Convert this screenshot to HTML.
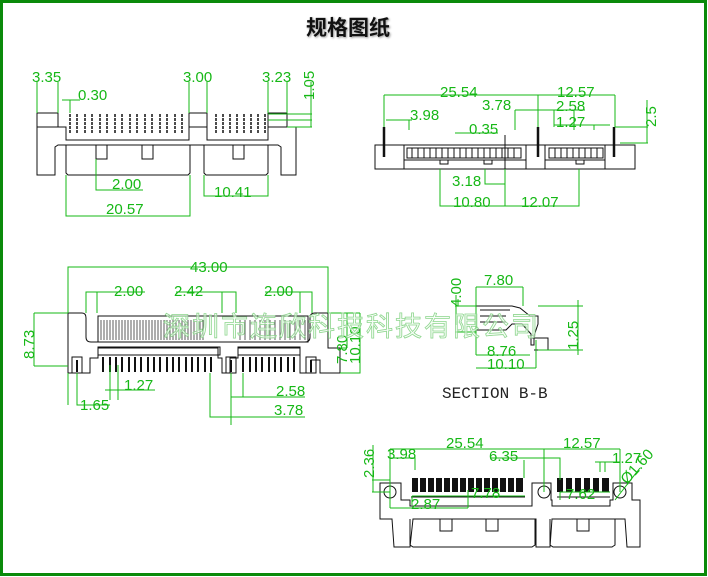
<!DOCTYPE html>
<html><head><meta charset="utf-8"><style>
html,body{margin:0;padding:0;background:#fff}
svg{display:block}
.g{fill:#16b816;font-family:"Liberation Sans",sans-serif;font-size:15px}
.gl{stroke:#16b816;stroke-width:1;fill:none}
.k{stroke:#111;stroke-width:1;fill:none}
</style></head><body>
<svg width="708" height="577" viewBox="0 0 708 577" xmlns="http://www.w3.org/2000/svg">
<rect x="1.5" y="1.5" width="704" height="573" fill="#fff" stroke="#0a8a0a" stroke-width="3"/>
<text x="348" y="35" text-anchor="middle" font-family="'Liberation Sans','Noto Sans CJK SC',sans-serif" font-size="21" font-weight="bold" fill="#111" style="text-shadow:1px 1px 2px #999">规格图纸</text>

<!-- VIEW 1 top-left -->
<g class="k">
<rect x="37" y="113" width="21" height="14"/>
<rect x="189" y="113" width="18" height="14"/>
<rect x="268" y="113" width="19" height="14"/>
<path d="M37 127 V175 H55 V147 L58 145 H278 L281 147 V175 H296 V127 H268 V140 H207 V127 H189 V140 H66 V127 Z"/>
<path d="M66 145 V173 L68 175 H188 L190 173 V145"/>
<path d="M204 145 V173 L206 175 H266 L268 173 V145"/>
<path d="M96 145 V159 H107 V145 M142 145 V159 H153 V145 M233 145 V159 H244 V145"/>
</g>
<g stroke="#111" stroke-width="1.5" stroke-dasharray="3 1">
<path d="M70 114V133M77 114V133M85 114V133M92 114V133M100 114V133M107 114V133M115 114V133M122 114V133M130 114V133M137 114V133M145 114V133M152 114V133M160 114V133M167 114V133M175 114V133M182 114V133"/>
<path d="M216 114V133M223 114V133M230 114V133M237 114V133M244 114V133M251 114V133M258 114V133M265 114V133"/>
</g>
<g class="gl">
<path d="M37 82V113M58 82V113M62 100H80M70 100V113"/>
<path d="M189 82V113M207 82V113M268 82V113M287 82V113M268 114H312M268 120H312M311 82V127M287 127H312"/>
<path d="M96 159V190H143M66 175V216H190V175M204 175V196H268V175"/>
</g>
<text class="g" x="32" y="82">3.35</text>
<text class="g" x="78" y="100">0.30</text>
<text class="g" x="183" y="82">3.00</text>
<text class="g" x="262" y="82">3.23</text>
<text class="g" transform="translate(314,100) rotate(-90)">1.05</text>
<text class="g" x="112" y="189">2.00</text>
<text class="g" x="106" y="214">20.57</text>
<text class="g" x="214" y="197">10.41</text>

<!-- VIEW 2 front -->
<g class="k">
<path d="M68 313H82Q86 313 86 318V337Q86 342 91 342H305Q310 342 310 337V318Q310 313 315 313H328V348H340V373H320V360H311V373H300V348H238V358H230V373H222V358H218V348H98V358H90V373H68Z"/>
<rect x="98" y="316" width="210" height="26"/>
<rect x="98" y="347" width="122" height="8"/>
<rect x="238" y="347" width="62" height="8"/>
<rect x="72" y="357" width="10" height="16"/><rect x="226" y="357" width="10" height="16"/><rect x="306" y="357" width="10" height="16"/>
</g>
<g stroke="#333" stroke-width="1" opacity=".8">
<path d="M101 320V340M104 320V340M107 320V340M110 320V340M113 320V340M116 320V340M119 320V340M122 320V340M125 320V340M128 320V340M131 320V340M134 320V340M137 320V340M140 320V340M143 320V340M146 320V340M149 320V340M152 320V340M155 320V340M158 320V340M161 320V340M164 320V340M167 320V340M170 320V340M173 320V340M176 320V340M179 320V340M182 320V340M185 320V340M188 320V340M191 320V340M194 320V340M197 320V340M200 320V340M203 320V340M240 320V340M245 320V340M250 320V340M255 320V340M260 320V340M265 320V340M270 320V340M275 320V340M280 320V340M285 320V340M290 320V340M295 320V340M300 320V340M305 320V340"/>
</g>
<g stroke="#111" stroke-width="2">
<path d="M103 357V372M110 357V372M116 357V372M122 357V372M129 357V372M135 357V372M141 357V372M148 357V372M154 357V372M160 357V372M167 357V372M173 357V372M179 357V372M186 357V372M192 357V372M198 357V372M205 357V372M211 357V372M243 357V372M250 357V372M256 357V372M262 357V372M269 357V372M275 357V372M281 357V372M288 357V372M294 357V372M77 360V372M231 360V372M311 360V372"/>
</g>
<g class="gl">
<path d="M68 313V267H328V313M34 313H68M34 366H68M34 313V366"/>
<path d="M86 313V292H97V313M97 292H145M176 292H236V313M222 292V313M265 292H312V313M300 292V313"/>
<path d="M340 348H347M347 313V348M328 313H360M360 313V373H340"/>
<path d="M110 365V400M118 365V400M105 390H155M68 373V405M77 373V405H110M231 373V425M243 373V397M231 397H305M210 373V417H305"/>
</g>
<text class="g" x="190" y="272">43.00</text>
<text class="g" x="114" y="296">2.00</text>
<text class="g" x="174" y="296">2.42</text>
<text class="g" x="264" y="296">2.00</text>
<text class="g" transform="translate(34,359) rotate(-90)">8.73</text>
<text class="g" transform="translate(347,364) rotate(-90)">7.80</text>
<text class="g" transform="translate(360,364) rotate(-90)">10.10</text>
<text class="g" x="124" y="390">1.27</text>
<text class="g" x="80" y="410">1.65</text>
<text class="g" x="276" y="396">2.58</text>
<text class="g" x="274" y="415">3.78</text>

<!-- VIEW 3 top-right -->
<g class="k">
<rect x="375" y="145" width="260" height="24"/>
<path d="M404 145V169M526 145V169M545 145V169M605 145V169M404 160H526M545 160H605"/>
</g>
<g stroke="#111" stroke-width="2.5">
<path d="M384 127V157M538 127V157M614 127V157"/>
</g>
<g fill="none" stroke="#111" stroke-width="1">
<path d="M407 148h114v10h-114zM549 148h54v10h-54z"/>
<path d="M412 148v10M418 148v10M424 148v10M430 148v10M436 148v10M442 148v10M448 148v10M454 148v10M460 148v10M466 148v10M472 148v10M478 148v10M484 148v10M490 148v10M496 148v10M502 148v10M508 148v10M514 148v10M555 148v10M561 148v10M567 148v10M573 148v10M579 148v10M585 148v10M591 148v10M597 148v10"/>
<path d="M440 160v4h8v-4M484 160v4h8v-4M576 160v4h8v-4M505 135V169"/>
</g>
<g class="gl">
<path d="M384 95H615M384 95V127M538 95V127M615 95V127M386 120H412M409 120V130"/>
<path d="M515 110H585M515 110V130M554 110V127M554 125H610M574 110V130M594 125V130"/>
<path d="M455 133H498M615 127H648M620 143H648M647 100V143"/>
<path d="M440 169V206H579V169M485 169V184H505M505 169V206"/>
</g>
<text class="g" x="440" y="97">25.54</text>
<text class="g" x="557" y="97">12.57</text>
<text class="g" x="410" y="120">3.98</text>
<text class="g" x="482" y="110">3.78</text>
<text class="g" x="556" y="111">2.58</text>
<text class="g" x="469" y="134">0.35</text>
<text class="g" x="556" y="127">1.27</text>
<text class="g" transform="translate(656,127) rotate(-90)">2.5</text>
<text class="g" x="452" y="186">3.18</text>
<text class="g" x="453" y="207">10.80</text>
<text class="g" x="521" y="207">12.07</text>

<!-- SECTION B-B -->
<g class="k">
<path d="M476 306H512L520 308L530 316H538V324L534 336V345H531V334L522 324H512L506 330H476Z"/>
<path d="M480 310H510M480 316H506M480 322H506M532 338H548V350H534"/>
</g>
<g class="gl">
<path d="M476 287H523M476 287V355M523 287V306M455 306H476M455 332H476M456 295V325"/>
<path d="M538 306H583M538 350H583M578 300V355M476 355H530M476 368H536M536 340V368"/>
</g>
<text class="g" x="484" y="285">7.80</text>
<text class="g" transform="translate(461,307) rotate(-90)">4.00</text>
<text class="g" x="487" y="356">8.76</text>
<text class="g" x="487" y="369">10.10</text>
<text class="g" transform="translate(578,350) rotate(-90)">1.25</text>
<text x="442" y="398" font-family="'Liberation Mono',monospace" font-size="16" fill="#222">SECTION B-B</text>

<!-- VIEW 5 bottom -->
<g class="k">
<path d="M380 483H401V500H410V506H532V483H551V500H552V506H610V500H613V483H632V500H640V547H627L625 519H552L550 547H536V519H413L410 547H394L392 519H380Z"/>
<path d="M410 519V545L413 547H532L535 545V519M550 519V545L553 547H612L615 545V519"/>
<path d="M440 519V531H452V519M486 519V531H498V519M577 519V531H589V519"/>
<circle cx="390" cy="492" r="6"/><circle cx="544" cy="492" r="6"/><circle cx="620" cy="492" r="6"/>
<path d="M411 497H525M557 497H610"/>
</g>
<g fill="#111">
<rect x="412" y="478" width="6" height="14"/><rect x="420" y="478" width="6" height="14"/><rect x="428" y="478" width="6" height="14"/><rect x="436" y="478" width="6" height="14"/><rect x="444" y="478" width="6" height="14"/><rect x="452" y="478" width="6" height="14"/><rect x="460" y="478" width="6" height="14"/><rect x="468" y="478" width="6" height="14"/><rect x="476" y="478" width="6" height="14"/><rect x="484" y="478" width="6" height="14"/><rect x="492" y="478" width="6" height="14"/><rect x="500" y="478" width="6" height="14"/><rect x="508" y="478" width="6" height="14"/><rect x="516" y="478" width="7" height="14"/>
<rect x="557" y="478" width="6" height="14"/><rect x="566" y="478" width="6" height="14"/><rect x="575" y="478" width="6" height="14"/><rect x="584" y="478" width="6" height="14"/><rect x="593" y="478" width="6" height="14"/><rect x="602" y="478" width="7" height="14"/>
</g>
<g class="gl">
<path d="M390 449H620M390 449V508M544 449V492M620 449V492M372 480H390M372 492H390M373 445V492"/>
<path d="M390 458H415V470M390 508H468M468 490V508M490 458H560V480M524 460V478"/>
<path d="M412 496H525M412 496V505M560 492H610M560 492V500M595 462H620M600 462V472M605 462V472M615 500L640 468"/>
</g>
<text class="g" x="446" y="448">25.54</text>
<text class="g" x="563" y="448">12.57</text>
<text class="g" x="387" y="459">3.98</text>
<text class="g" x="489" y="461">6.35</text>
<text class="g" x="612" y="463">1.27</text>
<text class="g" transform="translate(374,478) rotate(-90)">2.36</text>
<text class="g" transform="translate(627,485) rotate(-48)">Ø1.60</text>
<text class="g" x="411" y="509">2.87</text>
<text class="g" x="471" y="498">7.78</text>
<text class="g" x="566" y="499">7.62</text>

<!-- watermark -->
<text x="163" y="336" font-family="'Noto Sans CJK SC','WenQuanYi Zen Hei',sans-serif" font-size="27" fill="#f2fbf2" fill-opacity=".6" stroke="#8fd68f" stroke-width=".8" letter-spacing="2">深圳市连欣科技科技有限公司</text>
</svg>
</body></html>
